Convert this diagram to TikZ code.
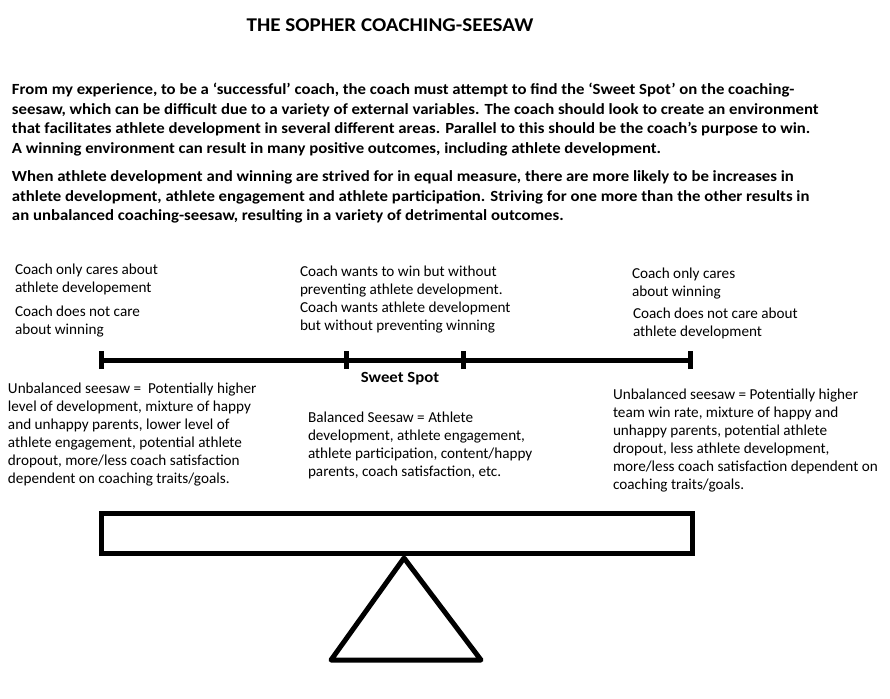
\documentclass[tikz,border=0pt]{standalone}
\usepackage{graphicx}
\usepackage{fontspec}
\setmainfont{Carlito}
\newcommand\mywide[1]{\scalebox{1.08}[1]{#1}}
\begin{document}
\begin{tikzpicture}[x=1pt,y=-1pt,
  every node/.style={inner sep=0pt,outer sep=0pt,anchor=base west},
  para/.style={font=\fontsize{15.5}{18}\selectfont\bfseries},
  lbl/.style={font=\fontsize{15.2}{18}\selectfont},
  ttl/.style={font=\fontsize{19.5}{22}\selectfont\bfseries,anchor=base},
  thick line/.style={line width=5pt},
]
\useasboundingbox (0,0) rectangle (890,698);
\fill[white] (0,0) rectangle (890,698);
% title
\node[ttl] (title) at (390,31.5) {\mywide{THE SOPHER COACHING-SEESAW}};
% paragraph 1
\node[para] (p1) at (12,94.5) {\mywide{From my experience, to be a ‘successful’ coach, the coach must attempt to find the ‘Sweet Spot’ on the coaching-}};
\node[para] (p2) at (12,114) {\mywide{seesaw, which can be difficult due to a variety of external variables. The coach should look to create an environment}};
\node[para] (p3) at (12,133.5) {\mywide{that facilitates athlete development in several different areas. Parallel to this should be the coach’s purpose to win.}};
\node[para] (p4) at (12,153) {\mywide{A winning environment can result in many positive outcomes, including athlete development.}};
% paragraph 2
\node[para] (q1) at (12,181.5) {\mywide{When athlete development and winning are strived for in equal measure, there are more likely to be increases in}};
\node[para] (q2) at (12,201) {\mywide{athlete development, athlete engagement and athlete participation. Striving for one more than the other results in}};
\node[para] (q3) at (12,220.5) {\mywide{an unbalanced coaching-seesaw, resulting in a variety of detrimental outcomes.}};
% upper labels
\node[lbl] (ul1) at (15,274) {Coach only cares about};
\node[lbl] (ul2) at (15,292) {athlete developement};
\node[lbl] (ul3) at (15,316) {Coach does not care};
\node[lbl] (ul4) at (15,334) {about winning};
\node[lbl] (um1) at (300,276) {Coach wants to win but without};
\node[lbl] (um2) at (300,294) {preventing athlete development.};
\node[lbl] (um3) at (300,312) {Coach wants athlete development};
\node[lbl] (um4) at (300,330) {but without preventing winning};
\node[lbl] (ur1) at (632,278) {Coach only cares};
\node[lbl] (ur2) at (632,296) {about winning};
\node[lbl] (ur3) at (633,318) {Coach does not care about};
\node[lbl] (ur4) at (633,336) {athlete development};
% seesaw scale line
\coordinate (a) at (101,360);
\coordinate (b) at (346,360);
\coordinate (c) at (463,360);
\coordinate (d) at (690,360);
\draw[thick line] (a) -- (d);
\foreach \p in {a,b,c,d}
  \draw[thick line] ([yshift=-9pt]\p) -- ([yshift=9pt]\p);
\node[para,anchor=base] (sweet) at (400,382) {\mywide{Sweet Spot}};
% lower labels
\node[lbl] (ll1) at (8,393) {Unbalanced seesaw =\ \ Potentially higher};
\node[lbl] (ll2) at (8,411) {level of development, mixture of happy};
\node[lbl] (ll3) at (8,429) {and unhappy parents, lower level of};
\node[lbl] (ll4) at (8,447) {athlete engagement, potential athlete};
\node[lbl] (ll5) at (8,465) {dropout, more/less coach satisfaction};
\node[lbl] (ll6) at (8,483) {dependent on coaching traits/goals.};
\node[lbl] (lm1) at (308,422) {Balanced Seesaw = Athlete};
\node[lbl] (lm2) at (308,440) {development, athlete engagement,};
\node[lbl] (lm3) at (308,458) {athlete participation, content/happy};
\node[lbl] (lm4) at (308,476) {parents, coach satisfaction, etc.};
\node[lbl] (lr1) at (613,399) {Unbalanced seesaw = Potentially higher};
\node[lbl] (lr2) at (613,417) {team win rate, mixture of happy and};
\node[lbl] (lr3) at (613,435) {unhappy parents, potential athlete};
\node[lbl] (lr4) at (613,453) {dropout, less athlete development,};
\node[lbl] (lr5) at (613,471) {more/less coach satisfaction dependent on};
\node[lbl] (lr6) at (613,489) {coaching traits/goals.};
% seesaw plank and fulcrum
\draw[thick line] (101,513) rectangle (692,553);
\draw[thick line,line join=round] (404,558) -- (481,660) -- (331,660) -- cycle;
\end{tikzpicture}
\end{document}
